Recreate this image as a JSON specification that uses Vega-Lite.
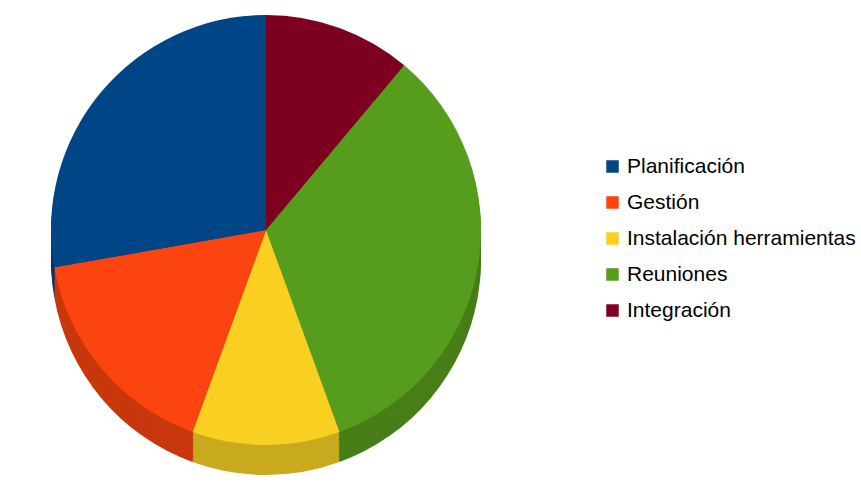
{
  "$schema": "https://vega.github.io/schema/vega-lite/v6.json",
  "width": 532,
  "height": 460,
  "padding": 0,
  "autosize": {"type": "pad"},
  "background": "white",
  "config": {"view": {"stroke": null}},
  "data": {
    "values": [
      {"tarea": "Integración", "valor": 2, "orden": 1},
      {"tarea": "Reuniones", "valor": 6, "orden": 2},
      {"tarea": "Instalación herramientas", "valor": 2, "orden": 3},
      {"tarea": "Gestión", "valor": 3, "orden": 4},
      {"tarea": "Planificación", "valor": 5, "orden": 5}
    ]
  },
  "encoding": {
    "theta": {"field": "valor", "type": "quantitative", "stack": true},
    "order": {"field": "orden", "type": "quantitative"}
  },
  "layer": [
    {
      "encoding": {
        "color": {"field": "tarea", "type": "nominal", "legend": null, "scale": {"domain": ["Planificación", "Gestión", "Instalación herramientas", "Reuniones", "Integración"], "range": ["#00376b", "#c9370c", "#c9a91e", "#477e17", "#65001a"]}}
      },
      "layer": [
        {"mark": {"type": "arc", "radius": 215, "yOffset": 30}},
        {"mark": {"type": "arc", "radius": 215, "yOffset": 27}},
        {"mark": {"type": "arc", "radius": 215, "yOffset": 24}},
        {"mark": {"type": "arc", "radius": 215, "yOffset": 21}},
        {"mark": {"type": "arc", "radius": 215, "yOffset": 18}},
        {"mark": {"type": "arc", "radius": 215, "yOffset": 15}},
        {"mark": {"type": "arc", "radius": 215, "yOffset": 12}},
        {"mark": {"type": "arc", "radius": 215, "yOffset": 9}},
        {"mark": {"type": "arc", "radius": 215, "yOffset": 6}},
        {"mark": {"type": "arc", "radius": 215, "yOffset": 3}}
      ]
    },
    {
      "mark": {"type": "arc", "radius": 215},
      "encoding": {
        "color": {
          "field": "tarea",
          "type": "nominal",
          "scale": {"domain": ["Planificación", "Gestión", "Instalación herramientas", "Reuniones", "Integración"], "range": ["#004586", "#fb4410", "#f9cf22", "#569c1d", "#7e0021"]},
          "legend": {
            "title": null,
            "orient": "none",
            "legendX": 602,
            "legendY": 156,
            "symbolType": "square",
            "symbolSize": 156,
            "symbolStrokeWidth": 0,
            "labelFont": "Liberation Sans",
            "labelFontSize": 21,
            "labelColor": "#000000",
            "labelOffset": 4,
            "rowPadding": 14,
            "padding": 0,
            "labelLimit": 400
          }
        }
      }
    }
  ],
  "resolve": {"scale": {"color": "independent"}, "legend": {"color": "independent"}}
}
